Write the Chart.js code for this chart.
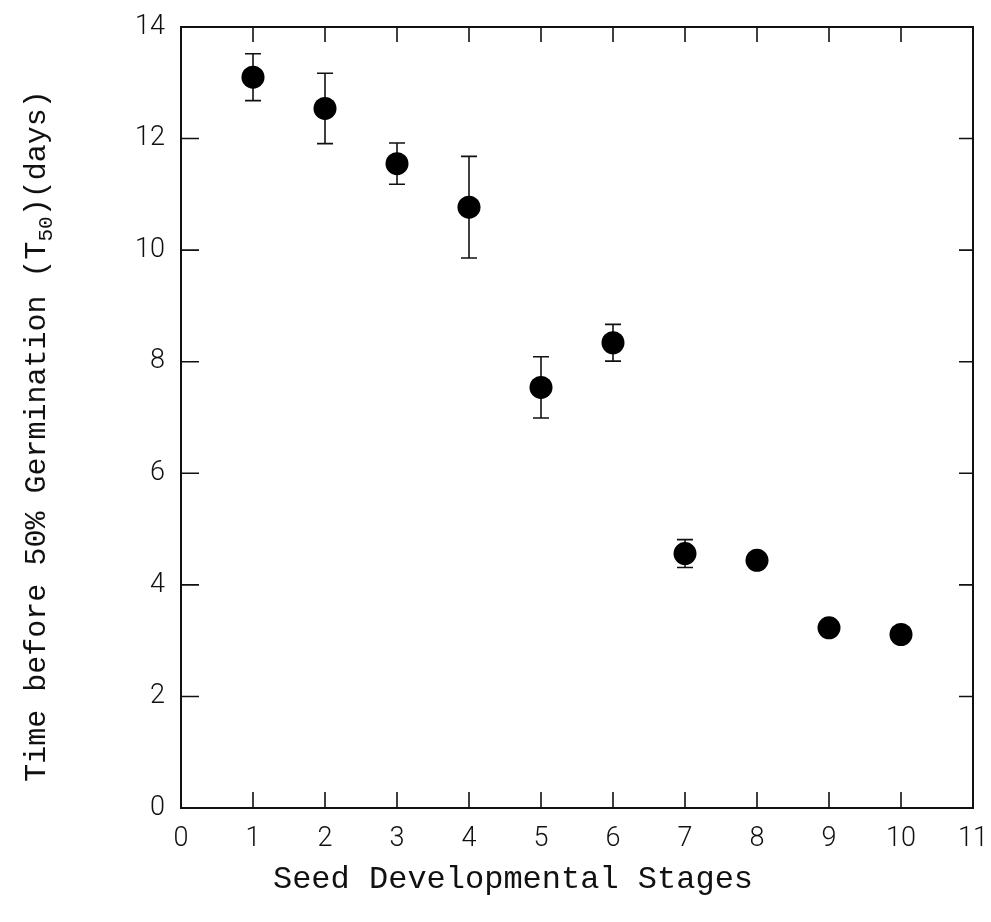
<!DOCTYPE html>
<html>
<head>
<meta charset="utf-8">
<script src="https://cdn.jsdelivr.net/npm/chart.js@4.4.1/dist/chart.umd.min.js"></script>
<style>
  html, body { margin: 0; padding: 0; background: #fff; }
</style>
</head>
<body>
<canvas id="germ-chart" width="991" height="922"></canvas>
<script>
(function () {
    'use strict';

    // Values
    var stages = [1, 2, 3, 4, 5, 6, 7, 8, 9, 10];
    var t50 = [13.1, 12.54, 11.55, 10.77, 7.54, 8.34, 4.56, 4.44, 3.23, 3.11];
    var t50Err = [0.42, 0.63, 0.37, 0.91, 0.55, 0.33, 0.25, 0, 0, 0];
    var xTicks = [0, 1, 2, 3, 4, 5, 6, 7, 8, 9, 10, 11];
    var yTicks = [0, 2, 4, 6, 8, 10, 12, 14];

    var xTitle = 'Seed Developmental Stages';
    var yTitleParts = ['Time before 50% Germination (T', '50', ')(days)'];

    var ink = '#111';
    var tickFont = { family: 'Roboto, "Liberation Sans", sans-serif', size: 27, weight: '300' };
    var titleFamily = '"Liberation Mono", "DejaVu Sans Mono", monospace';

    var points = stages.map(function (s, i) {
        return { x: s, y: t50[i] };
    });

    // keep the plot box fixed, whatever the label sizes
    function fixBox(prop, size) {
        return function (s) {
            s[prop] = size;
            s.paddingLeft = s.paddingRight = s.paddingTop = s.paddingBottom = 0;
        };
    }

    // Error bars, frame and inward tick marks
    var framePlugin = {
        id: 'frame',
        beforeDatasetsDraw: function (chart) {
            var ctx = chart.ctx;
            var xs = chart.scales.x, ys = chart.scales.y;
            ctx.save();
            ctx.strokeStyle = ink;
            ctx.lineWidth = 1.6;
            stages.forEach(function (s, i) {
                var e = t50Err[i];
                if (!e) return;
                var px = xs.getPixelForValue(s);
                var top = ys.getPixelForValue(t50[i] + e);
                var bot = ys.getPixelForValue(t50[i] - e);
                ctx.beginPath();
                ctx.moveTo(px, top); ctx.lineTo(px, bot);
                ctx.moveTo(px - 8, top); ctx.lineTo(px + 8, top);
                ctx.moveTo(px - 8, bot); ctx.lineTo(px + 8, bot);
                ctx.stroke();
            });
            ctx.restore();
        },
        afterDraw: function (chart) {
            var ctx = chart.ctx;
            var a = chart.chartArea;
            var xs = chart.scales.x, ys = chart.scales.y;
            ctx.save();
            ctx.strokeStyle = ink;

            // frame
            ctx.lineWidth = 2;
            ctx.strokeRect(a.left, a.top, a.right - a.left, a.bottom - a.top);

            // ticks pointing inward
            ctx.lineWidth = 1.6;
            ctx.beginPath();
            xTicks.forEach(function (v) {
                if (v === xTicks[0] || v === xTicks[xTicks.length - 1]) return;
                var px = xs.getPixelForValue(v);
                ctx.moveTo(px, a.bottom); ctx.lineTo(px, a.bottom - 16);
                ctx.moveTo(px, a.top); ctx.lineTo(px, a.top + 15);
            });
            yTicks.forEach(function (v) {
                if (v === yTicks[0] || v === yTicks[yTicks.length - 1]) return;
                var py = ys.getPixelForValue(v);
                ctx.moveTo(a.left, py); ctx.lineTo(a.left + 18, py);
                ctx.moveTo(a.right, py); ctx.lineTo(a.right - 14, py);
            });
            ctx.stroke();

            // axis titles
            ctx.fillStyle = ink;
            ctx.font = '32px ' + titleFamily;
            ctx.textAlign = 'center';
            ctx.textBaseline = 'middle';
            ctx.fillText(xTitle, 513, 880);

            var big = '30px ' + titleFamily;
            var small = '21px ' + titleFamily;
            ctx.font = big;
            var w0 = ctx.measureText(yTitleParts[0]).width;
            var w2 = ctx.measureText(yTitleParts[2]).width;
            ctx.font = small;
            var w1 = ctx.measureText(yTitleParts[1]).width;
            var total = w0 + w1 + w2;

            ctx.translate(35, 436);
            ctx.rotate(-Math.PI / 2);
            ctx.textAlign = 'left';
            ctx.textBaseline = 'alphabetic';
            var startX = -total / 2;
            ctx.font = big;
            ctx.fillText(yTitleParts[0], startX, 10);
            ctx.font = small;
            ctx.fillText(yTitleParts[1], startX + w0, 17);
            ctx.font = big;
            ctx.fillText(yTitleParts[2], startX + w0 + w1, 10);
            ctx.restore();
        }
    };

    new Chart(document.getElementById('germ-chart'), {
        type: 'scatter',
        data: {
            datasets: [{
                label: 'T50',
                data: points,
                backgroundColor: '#000',
                borderWidth: 0,
                pointRadius: 11.5,
                pointHoverRadius: 11.5
            }]
        },
        options: {
            responsive: false,
            animation: false,
            devicePixelRatio: 1,
            layout: {
                autoPadding: false,
                padding: { top: 27, right: 18, left: 0, bottom: 0 }
            },
            plugins: {
                legend: { display: false },
                tooltip: { enabled: false }
            },
            scales: {
                x: {
                    type: 'linear',
                    min: xTicks[0],
                    max: xTicks[xTicks.length - 1],
                    afterFit: fixBox('height', 114),
                    afterBuildTicks: function (s) {
                        s.ticks = xTicks.map(function (v) { return { value: v }; });
                    },
                    grid: { display: false, drawTicks: false },
                    border: { display: false },
                    ticks: { color: ink, font: tickFont, padding: 15, maxRotation: 0, autoSkip: false }
                },
                y: {
                    type: 'linear',
                    min: yTicks[0],
                    max: yTicks[yTicks.length - 1],
                    afterFit: fixBox('width', 181),
                    afterBuildTicks: function (s) {
                        s.ticks = yTicks.map(function (v) { return { value: v }; });
                    },
                    grid: { display: false, drawTicks: false },
                    border: { display: false },
                    ticks: { color: ink, font: tickFont, padding: 16, autoSkip: false }
                }
            }
        },
        plugins: [framePlugin]
    });
})();
</script>
</body>
</html>
